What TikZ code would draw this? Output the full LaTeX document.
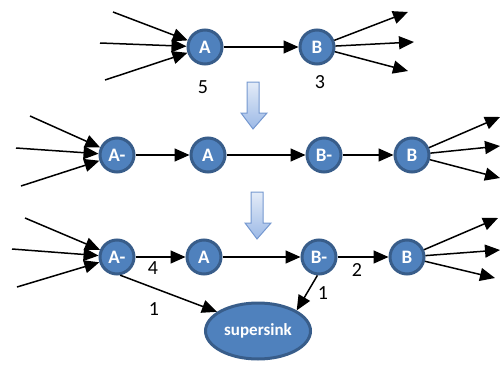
\documentclass[tikz,border=0pt]{standalone}
\usepackage{fontspec}
\setmainfont{Carlito}
\usetikzlibrary{arrows.meta,shapes.geometric}
\definecolor{vertfill}{HTML}{4F81BD}
\definecolor{vertedge}{HTML}{385D8A}
\definecolor{steptop}{HTML}{E4ECF8}
\definecolor{stepbot}{HTML}{9CB9E6}
\definecolor{stepedge}{HTML}{7598D0}
\tikzset{
  vert/.style={circle, fill=vertfill, draw=vertedge, line width=3pt,
    minimum size=34pt, inner sep=0pt, text=white,
    font=\fontsize{19}{19}\selectfont\bfseries},
  sink/.style={ellipse, fill=vertfill, draw=vertedge, line width=3pt,
    minimum width=105pt, minimum height=56pt, inner sep=0pt, text=white,
    font=\fontsize{17}{17}\selectfont\bfseries},
  flow/.style={line width=1.5pt, -{Triangle[length=15pt,width=13pt]}},
  weight/.style={font=\fontsize{20}{20}\selectfont}
}
\begin{document}
\begin{tikzpicture}[x=1pt, y=-1pt]
  \useasboundingbox (0,0) rectangle (500,369);
  % original graph: A -> B, vertex capacities 5 and 3
  \node[vert] (a1) at (205,47) {A};
  \node[vert] (b1) at (317,47) {B};
  \draw[flow] (a1) -- (b1);
  \node[weight] (c5) at (203,87) {5};
  \node[weight] (c3) at (320,82) {3};
  \foreach \i/\x/\y in {1/113/12, 2/100/43, 3/105/80} {
    \coordinate (in1\i) at (\x,\y);
    \draw[flow] (in1\i) -- (a1);
  }
  \foreach \i/\x/\y in {1/408/12, 2/414/42, 3/408/71} {
    \coordinate (out1\i) at (\x,\y);
    \draw[flow] (b1) -- (out1\i);
  }

  % big hollow arrows between the steps
  \foreach \dx/\dy in {0/0, 4/110}
    \shadedraw[top color=steptop, bottom color=stepbot, draw=stepedge, line width=1pt,
        shift={(\dx,\dy)}]
      (247,82) -- (259,82) -- (259,113) -- (267,113) -- (253,129)
      -- (241,113) -- (247,113) -- cycle;

  % split vertices
  \foreach \n/\x/\t in {am2/117/A-, a2/208/A, bm2/324/B-, b2/412/B}
    \node[vert] (\n) at (\x,155) {\t};
  \draw[flow] (am2) -- (a2);
  \draw[flow] (a2) -- (bm2);
  \draw[flow] (bm2) -- (b2);
  \foreach \i/\x/\y in {1/30/116, 2/16/148, 3/21/186} {
    \coordinate (in2\i) at (\x,\y);
    \draw[flow] (in2\i) -- (am2);
  }
  \foreach \i/\x/\y in {1/500/117, 2/500/146, 3/500/178} {
    \coordinate (out2\i) at (\x,\y);
    \draw[flow] (b2) -- (out2\i);
  }

  % split vertices with the supersink
  \foreach \n/\x/\t in {am3/117/A-, a3/204/A, bm3/319/B-, b3/407/B}
    \node[vert] (\n) at (\x,257) {\t};
  \node[sink] (sink) at (258,331) {supersink};
  \draw[flow] (am3) -- (a3);
  \draw[flow] (a3) -- (bm3);
  \draw[flow] (bm3) -- (b3);
  \draw[flow] (am3.-80) -- (sink.155);
  \draw[flow] (bm3.-95) -- (sink.28);
  \node[weight] (c4) at (153,268) {4};
  \node[weight] (c2) at (357,270) {2};
  \node[weight] (c1a) at (154,309) {1};
  \node[weight] (c1b) at (323,293) {1};
  \foreach \i/\x/\y in {1/25/218, 2/12/249, 3/17/287} {
    \coordinate (in3\i) at (\x,\y);
    \draw[flow] (in3\i) -- (am3);
  }
  \foreach \i/\x/\y in {1/498/218, 2/500/250, 3/495/278} {
    \coordinate (out3\i) at (\x,\y);
    \draw[flow] (b3) -- (out3\i);
  }
\end{tikzpicture}
\end{document}
